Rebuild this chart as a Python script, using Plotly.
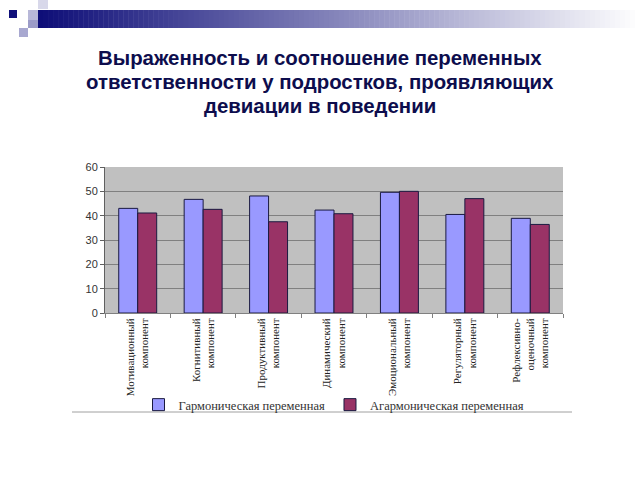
import plotly.graph_objects as go

categories = [
    "Мотивационный<br>компонент",
    "Когнитивный<br>компонент",
    "Продуктивный<br>компонент",
    "Динамический<br>компонент",
    "Эмоциональный<br>компонент",
    "Регуляторный<br>компонент",
    "Рефлексивно-<br>оценочный<br>компонент",
]
harmonic = [43.0, 46.7, 48.1, 42.3, 49.6, 40.5, 38.9]
anharmonic = [41.1, 42.6, 37.5, 40.8, 50.0, 47.0, 36.4]
series_names = ["Гармоническая переменная", "Агармоническая переменная"]
title_lines = ["Выраженность и соотношение переменных",
               "ответственности у подростков, проявляющих",
               "девиации в поведении"]

W, H = 640, 480
L, R, T, B = 105, 77, 167, 167
PW, PH = W - L - R, H - T - B


def px(x):
    return (x - L) / PW


def py(y):
    return (H - y - B) / PH


fig = go.Figure()
fig.add_trace(go.Bar(x=categories, y=harmonic, name=series_names[0],
                     marker=dict(color="#9999ff", line=dict(color="#1a1a40", width=1))))
fig.add_trace(go.Bar(x=categories, y=anharmonic, name=series_names[1],
                     marker=dict(color="#993366", line=dict(color="#1a1a40", width=1))))

shapes = []
# gradient header bar (decoration)
n = 120
x0, x1 = 38, 640
for i in range(n):
    t = i / (n - 1)
    c0 = (14, 14, 120)
    c1 = (255, 255, 255)
    r = int(c0[0] + (c1[0] - c0[0]) * t)
    g = int(c0[1] + (c1[1] - c0[1]) * t)
    b = int(c0[2] + (c1[2] - c0[2]) * t)
    xa = x0 + (x1 - x0) * i / n
    xb = x0 + (x1 - x0) * (i + 1) / n + 0.5
    shapes.append(dict(type="rect", xref="paper", yref="paper",
                       x0=px(xa), x1=px(xb), y0=py(28), y1=py(10),
                       fillcolor=f"rgb({r},{g},{b})", line=dict(width=0)))
squares = [
    (9, 10, 17, 18, "#10107a"),
    (28, 10, 38, 20, "#b8b8d8"),
    (38, 0, 48, 9, "#d8d8ea"),
    (28, 20, 38, 28, "#9c9cc8"),
    (19, 28, 28, 37, "#a8a8d0"),
]
for (a, b_, c, d, col) in squares:
    shapes.append(dict(type="rect", xref="paper", yref="paper",
                       x0=px(a), x1=px(c), y0=py(d), y1=py(b_),
                       fillcolor=col, line=dict(width=0)))
# line under legend
shapes.append(dict(type="line", xref="paper", yref="paper",
                   x0=px(72), x1=px(572), y0=py(412), y1=py(412),
                   line=dict(color="#a0a0a0", width=1)))

annotations = []
for k, line in enumerate(title_lines):
    annotations.append(dict(text="<b>" + line + "</b>", xref="paper", yref="paper",
                            x=px(320), y=py(58 + 24 * k),
                            xanchor="center", yanchor="middle", showarrow=False,
                            font=dict(family="Liberation Sans", size=20.4, color="#0d0d4d")))

fig.update_layout(
    width=W, height=H,
    margin=dict(l=L, r=R, t=T, b=B),
    paper_bgcolor="white",
    plot_bgcolor="#c0c0c0",
    barmode="group",
    bargap=0.42,
    bargroupgap=0,
    showlegend=True,
    legend=dict(orientation="h", x=px(334), xanchor="center",
                y=py(405), yanchor="middle",
                font=dict(family="Liberation Serif", size=12.5, color="#333333"),
                traceorder="normal", bgcolor="rgba(0,0,0,0)"),
    shapes=shapes,
    annotations=annotations,
    xaxis=dict(tickangle=-90, ticks="outside", tickson="boundaries", ticklen=4,
               tickcolor="#808080", showline=True, linecolor="#808080",
               tickfont=dict(family="Liberation Serif", size=11, color="#222222"),
               showgrid=False),
    yaxis=dict(range=[0, 60], dtick=10, ticks="outside", ticklen=4,
               tickcolor="#606060", showline=True, linecolor="#606060",
               gridcolor="#808080", gridwidth=1,
               tickfont=dict(family="Liberation Sans", size=11, color="#333333"),
               zeroline=False),
    font=dict(family="Liberation Sans"),
)

fig.write_html("out.html")
